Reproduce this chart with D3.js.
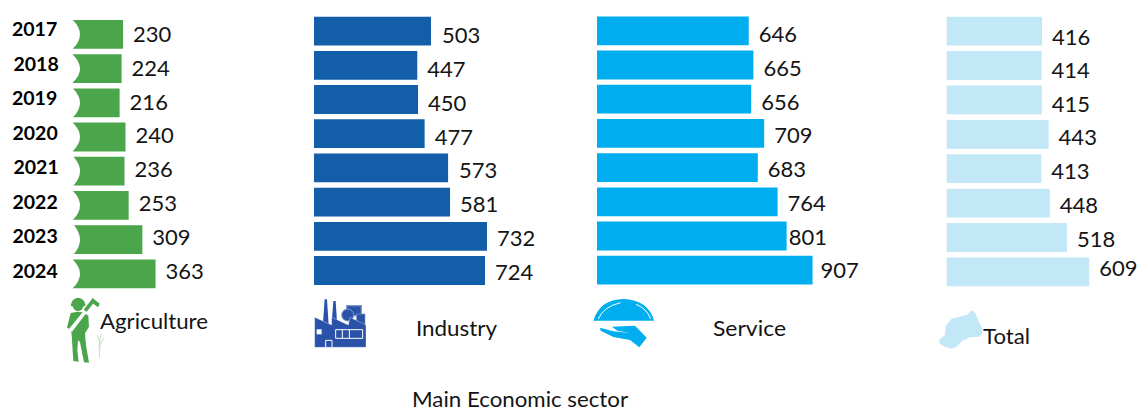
<!DOCTYPE html>
<html><head><meta charset="utf-8">
<script src="https://cdn.jsdelivr.net/npm/d3@7"></script>
<style>html,body{margin:0;padding:0;background:#fff}svg{display:block}text{font-family:Lato,"Open Sans",sans-serif;fill:#141414}</style>
</head><body><div id="chart"></div>
<script>
const years = ["2017","2018","2019","2020","2021","2022","2023","2024"];
const agriculture = [230,224,216,240,236,253,309,363];
const industry = [503,447,450,477,573,581,732,724];
const service = [646,665,656,709,683,764,801,907];
const total = [416,414,415,443,413,448,518,609];
const sectorNames = ["Agriculture","Industry","Service","Total"];
const axisTitle = "Main Economic sector";

// layout
const W = 1139, H = 412;
const svg = d3.select("#chart").append("svg").attr("width",W).attr("height",H);
const x = d3.scaleLinear().domain([0,1000]).range([0,244.5]);
const panels = [
 {name:sectorNames[0],values:agriculture,origin:66.8,left:73,top:20,step:34.2,color:"#4ba64b",notch:true,
  labelY:[34,68,102,135.5,169,203,237,271],nudge:[0,0,0,0,0,0,0,0],nameX:100,nameY:320,nameW:108},
 {name:sectorNames[1],values:industry,origin:308,left:314,top:16.7,step:34.2,color:"#125ea8",
  labelY:[35,69,103,137,170,204,238,272],nudge:[1,0,0,0,1,0,0,0],nameX:416,nameY:327,nameW:81},
 {name:sectorNames[2],values:service,origin:590.8,left:597,top:16.4,step:34.2,color:"#00aeef",
  labelY:[34,68,102,135,169,203,237,270],nudge:[0,0,0,0,0,0,-8,-2],nameX:713,nameY:327,nameW:73},
 {name:sectorNames[3],values:total,origin:940.3,left:946.7,top:16.7,step:34.4,color:"#c2e7f7",
  labelY:[37,70,104,137.5,171,205,239,268],nudge:[0,0,0,0,0,0,0,0],nameX:983,nameY:335,nameW:47}
];
const BAR_H = 28.8;
const notchLeft = [72.8,72.4,73,72.6,73.5,73,74,72.7];

panels.forEach(p=>{
  const y = d3.scaleBand().domain(years)
     .range([p.top,p.top+7*p.step+BAR_H]).paddingInner(1-BAR_H/p.step).paddingOuter(0);
  const g = svg.append("g").attr("class","panel");
  g.selectAll("path.bar").data(p.values).join("path").attr("class","bar")
   .attr("fill",p.color)
   .attr("d",(v,i)=>{
     const t=y(years[i]), b=t+y.bandwidth(), r=p.origin+x(v), l=p.notch?notchLeft[i]:p.left;
     const c=d3.path();
     c.moveTo(l,t); c.lineTo(r,t); c.lineTo(r,b); c.lineTo(l,b);
     if(p.notch) c.quadraticCurveTo(2*80-l,(t+b)/2,l,t); else c.closePath();
     return c.toString();
   });
  g.selectAll("text.val").data(p.values).join("text").attr("class","val")
   .attr("x",(v,i)=>p.origin+x(v)+10+p.nudge[i])
   .attr("y",(v,i)=>p.labelY[i]-0.8)
   .attr("dominant-baseline","central")
   .style("font-size","22px")
   .text(v=>v);
  g.append("text").attr("x",p.nameX).attr("y",p.nameY)
   .attr("dominant-baseline","central").style("font-size","21px")
   .attr("textLength",p.nameW).attr("lengthAdjust","spacingAndGlyphs").text(p.name);
});

// year labels
const yearX = [12,13.5,12,12.5,13.5,12.5,12.5,12.5];
const yearY = [28.5,63.5,97.5,132.5,166.5,201,235.5,270.5];
svg.selectAll("text.year").data(years).join("text").attr("class","year")
 .attr("x",(d,i)=>yearX[i]).attr("y",(d,i)=>yearY[i])
 .attr("dominant-baseline","central")
 .style("font-size","19.5px").style("font-weight","700").style("fill","#000").text(d=>d);

svg.append("text").attr("x",412).attr("y",407.2)
 .style("font-size","21px").attr("textLength",216).attr("lengthAdjust","spacingAndGlyphs").text(axisTitle);

// pictograms (traced in 3x crop coordinates)
const farmer = svg.append("g").attr("transform","translate(40,285) scale(0.3333)").attr("fill","#4ba64b");
farmer.append("path").attr("d","M92 62 Q95 40 114 38 Q134 40 137 62 L130 64 Q127 78 114 78 Q102 78 99 65 Z");
farmer.append("path").attr("d","M92 84 L112 80 L130 82 L145 92 L147 125 L135 145 L138 180 L147 233 L132 232 L120 172 L114 165 L112 195 L116 230 L100 228 L95 150 L93 134 L81 128 Z");
farmer.append("path").attr("d","M85 134 L158 44 L165 50 L96 140 Z").attr("fill","#fff");
farmer.append("path").attr("d","M131 74 L156 42 L165 49 L140 80 Z");
farmer.append("path").attr("d","M155 37 L179 56 L174 67 L160 56 Z");
farmer.append("path").attr("d","M172 150 L180 175 L178 218 M192 158 L180 180 M184 145 L176 190").attr("fill","none").attr("stroke","#b9dcb6").attr("stroke-width",2.5);

const factory = svg.append("g").attr("transform","translate(300,290) scale(0.3333)").attr("fill","#2a52a8");
factory.append("path").attr("d","M69 98 L74 28 L81 28 L86 105 Z M96 88 L100 33 L107 33 L111 95 Z");
factory.append("rect").attr("x",140).attr("y",47).attr("width",44).attr("height",30).attr("stroke","#7d96cf").attr("stroke-width",4);
factory.append("circle").attr("cx",143).attr("cy",75).attr("r",18).attr("stroke","#7d96cf").attr("stroke-width",3);
factory.append("rect").attr("x",170).attr("y",72).attr("width",25).attr("height",34).attr("stroke","#7d96cf").attr("stroke-width",2);
factory.append("path").attr("d","M44 82 L95 105 L95 82 L145 105 L150 82 L198 105 L198 172 L44 172 Z").attr("stroke","#fff").attr("stroke-width",1);
factory.append("rect").attr("x",50).attr("y",118).attr("width",15).attr("height",15).attr("fill","#fff");
factory.append("path").attr("d","M107 119 H188 V145 H107 Z M127 119 V145 M148 119 V145 M77 172 V151 H96 V172").attr("fill","none").attr("stroke","#fff").attr("stroke-width",3);

const tray = svg.append("g").attr("transform","translate(580,290) scale(0.3333)").attr("fill","#00aeef");
tray.append("path").attr("d","M40 92 Q60 28 130 27 Q205 30 222 92 Z");
tray.append("path").attr("d","M55 87 Q70 50 122 38 M168 43 Q200 55 212 87").attr("fill","none").attr("stroke","#fff").attr("stroke-width",3);
tray.append("path").attr("d","M60 113 L100 124 L150 129 L112 122 L96 110 L165 107 L200 143 L178 172 L150 150 L100 141 L62 122 Z");

const map = svg.append("g").attr("transform","translate(925,300) scale(0.3333)").attr("fill","#c2e7f7");
map.append("path").attr("d","M42 120 L60 104 L62 78 L80 56 L112 48 L125 45 L142 30 L152 42 L160 62 L172 85 L172 100 L165 110 L135 112 L112 122 L95 140 L80 146 L60 140 L45 132 Z");
</script></body></html>
